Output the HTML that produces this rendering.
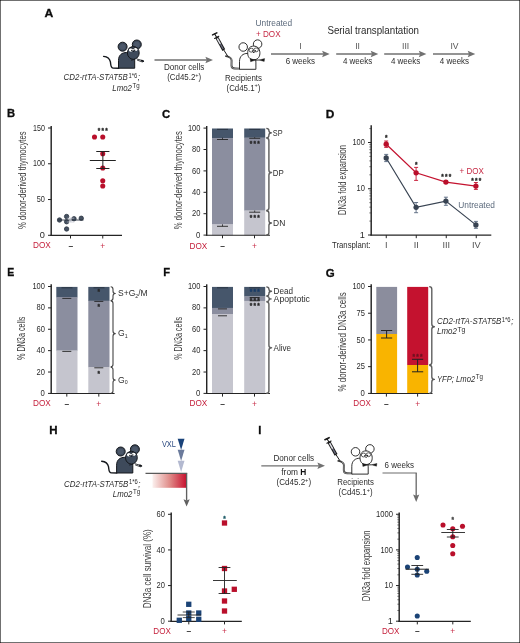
<!DOCTYPE html>
<html lang="en"><head><meta charset="utf-8"><title>Figure</title>
<style>
html,body{margin:0;padding:0;background:#fff;}
body{width:520px;height:643px;overflow:hidden;}
#fig{display:block;width:520px;height:643px;box-sizing:border-box;position:relative;}
svg{display:block;font-family:"Liberation Sans",sans-serif;}
</style></head><body>
<div id="fig">
<svg width="520" height="643" viewBox="0 0 520 643">
<rect x="0" y="0" width="520" height="643" fill="#fff"/>
<text x="44.6" y="16.7" font-size="11.4" fill="#0d0d0d" font-weight="bold" textLength="8.8" lengthAdjust="spacingAndGlyphs" stroke="#0d0d0d" stroke-width="0.3">A</text>
<g transform="translate(0.1,-0.1)">
<path d="M103.5,56.5 C106.5,56.8 109.6,58.5 110.3,62 C110.8,64.5 110.3,68.2 113.2,68.2 L118.6,68.3" fill="none" stroke="#14171c" stroke-width="1.4" stroke-linecap="round"/>
<circle cx="122.5" cy="46.8" r="4.5" fill="#3e4a5b" stroke="#14171c" stroke-width="1"/>
<circle cx="136.7" cy="44.6" r="4.5" fill="#3e4a5b" stroke="#14171c" stroke-width="1"/>
<circle cx="122.5" cy="46.8" r="2.8" fill="#4c586a"/><circle cx="136.7" cy="44.6" r="2.8" fill="#4c586a"/>
<path d="M118.4,68.3 L118.4,60.5 C118.4,55 122,52.6 126.5,52.6 C131.5,52.6 134.6,56 134.6,61 L134.6,68.3 Z" fill="#3e4a5b" stroke="#14171c" stroke-width="1" stroke-linejoin="round"/>
<ellipse cx="133.2" cy="53" rx="5.9" ry="6.4" fill="#3e4a5b" stroke="#14171c" stroke-width="1"/>
<ellipse cx="130.8" cy="50.1" rx="2.1" ry="1.7" fill="#fff"/>
<ellipse cx="135.3" cy="49.5" rx="2.1" ry="1.7" fill="#fff"/>
<circle cx="131.7" cy="50.7" r="0.75" fill="#14171c"/><circle cx="134.6" cy="50.3" r="0.75" fill="#14171c"/>
<path d="M128.6,48.4 Q130.8,47 133,48.6 Q135.3,46.8 137.6,48.2" fill="none" stroke="#14171c" stroke-width="0.8"/>
<ellipse cx="133.3" cy="51.4" rx="0.9" ry="0.6" fill="#14171c"/>
<path d="M136.6,59 L143.4,61 M137,60.2 L142.6,62.2 M131,60.4 L134.4,59.6" fill="none" stroke="#14171c" stroke-width="0.8"/>
<ellipse cx="142.4" cy="61" rx="1.7" ry="1" fill="#14171c" transform="rotate(18 142.4 61)"/>
</g>
<text x="63.6" y="80.3" font-size="8.8" fill="#2d2d2d" font-style="italic" textLength="64.2" lengthAdjust="spacingAndGlyphs" >CD2-rtTA-STAT5B</text>
<text x="128.4" y="77.6" font-size="6.4" fill="#2d2d2d" textLength="8.8" lengthAdjust="spacingAndGlyphs" >1*6</text>
<text x="137.8" y="80.3" font-size="8.8" fill="#2d2d2d" font-style="italic" textLength="2.2" lengthAdjust="spacingAndGlyphs" >;</text>
<text x="112.3" y="90.5" font-size="8.8" fill="#2d2d2d" font-style="italic" textLength="19.6" lengthAdjust="spacingAndGlyphs" >Lmo2</text>
<text x="132.4" y="87.8" font-size="6.4" fill="#2d2d2d" textLength="7.2" lengthAdjust="spacingAndGlyphs" >Tg</text>
<line x1="154.5" y1="60" x2="206.9" y2="60" stroke="#717171" stroke-width="1.35" />
<path d="M213,60 L205.4,56.7 L206.7,60 L205.4,63.3 Z" fill="#717171"/>
<text x="184.2" y="69.5" font-size="8.8" fill="#2d2d2d" text-anchor="middle" textLength="40.3" lengthAdjust="spacingAndGlyphs" >Donor cells</text>
<text x="184.2" y="80" font-size="8.8" fill="#2d2d2d" text-anchor="middle" textLength="34" lengthAdjust="spacingAndGlyphs" >(Cd45.2<tspan font-size="6.2" dy="-3.3">+</tspan><tspan dy="3.3">)</tspan></text>
<g transform="translate(0,0.1)">
<g stroke="#1a1a1a" fill="none" stroke-linecap="round">
<path d="M212.6,34.8 L216.8,32.8" stroke-width="1.6"/>
<path d="M214.7,33.8 L216.6,37.2" stroke-width="1.1"/>
<path d="M214.6,38.3 L218.8,36.2" stroke-width="1.1"/>
<path d="M216.7,37.2 L223.8,50" stroke-width="3.2" stroke-linecap="butt"/>
<path d="M217.3,38.3 L220.4,43.9" stroke="#e4e5ec" stroke-width="1.5" stroke-linecap="butt"/>
<path d="M220.4,43.9 L223.2,48.9" stroke="#6d7083" stroke-width="1.3" stroke-linecap="butt"/>
<path d="M223.6,49.6 L228.2,56.8" stroke-width="1"/>
<path d="M226,56 C229.5,56.6 231.6,57.6 231.6,60.4 L231.5,65.4 C231.5,67.9 232.6,68.4 235,68.4 L239.5,68.5" stroke-width="1.9" stroke="#3a3a3a"/>
<path d="M229.8,57.2 C231.4,58 231.6,58.6 231.6,60.4 L231.5,65.4 C231.5,67.9 232.6,68.4 235,68.4 L239,68.5" stroke-width="0.5" stroke="#d8d8d8"/>
</g>
<circle cx="243.2" cy="46.9" r="4.25" fill="#fff" stroke="#1a1a1a" stroke-width="0.9"/>
<circle cx="257.6" cy="44" r="4.25" fill="#fff" stroke="#1a1a1a" stroke-width="0.9"/>
<path d="M239.5,69.2 L239.5,61.4 C239.5,56 243,53.3 247.5,53.3 C252.5,53.3 255.9,57 255.9,62 L255.9,69.2 Z" fill="#fff" stroke="#1a1a1a" stroke-width="0.9" stroke-linejoin="round"/>
<path d="M253.6,46 C257.4,46 259.6,48.6 259.9,52.4 C260.1,56 258.4,59.6 253.8,59.6 C249.4,59.6 247.6,56.4 247.7,52.6 C247.8,48.8 249.8,46 253.6,46 Z" fill="#fff" stroke="#1a1a1a" stroke-width="0.9"/>
<ellipse cx="251.3" cy="50.1" rx="2.25" ry="1.95" fill="#fff" stroke="#1a1a1a" stroke-width="0.7"/>
<ellipse cx="256.1" cy="49.8" rx="2.25" ry="1.95" fill="#fff" stroke="#1a1a1a" stroke-width="0.7"/>
<circle cx="252.5" cy="50.8" r="0.65" fill="#1a1a1a"/><circle cx="255.3" cy="50.6" r="0.65" fill="#1a1a1a"/>
<ellipse cx="253.8" cy="52.3" rx="0.8" ry="0.55" fill="#1a1a1a"/>
<path d="M250.2,58.6 L255.6,60 L250.6,61.6 Z M264.6,58.5 L259,59.9 L264.2,61.3 Z" fill="#1a1a1a" stroke="#1a1a1a" stroke-width="0.4" stroke-linejoin="round"/>
<path d="M255.4,60 L259.2,59.9" stroke="#1a1a1a" stroke-width="0.9"/>
</g>
<text x="243.5" y="80.8" font-size="8.8" fill="#2d2d2d" text-anchor="middle" textLength="37" lengthAdjust="spacingAndGlyphs" >Recipients</text>
<text x="243.5" y="90.6" font-size="8.8" fill="#2d2d2d" text-anchor="middle" textLength="34" lengthAdjust="spacingAndGlyphs" >(Cd45.1<tspan font-size="6.2" dy="-3.3">+</tspan><tspan dy="3.3">)</tspan></text>
<text x="255.5" y="26.4" font-size="9.4" fill="#5c6a7c" textLength="36.6" lengthAdjust="spacingAndGlyphs" >Untreated</text>
<text x="256" y="36.6" font-size="9.2" fill="#c62a45" textLength="24.6" lengthAdjust="spacingAndGlyphs" >+ DOX</text>
<text x="327.4" y="33.9" font-size="10.2" fill="#2a2a2a" textLength="91.6" lengthAdjust="spacingAndGlyphs" >Serial transplantation</text>
<line x1="271" y1="54" x2="323.6" y2="54" stroke="#717171" stroke-width="1.35" />
<path d="M329.7,54 L322.1,50.7 L323.4,54 L322.1,57.3 Z" fill="#717171"/>
<text x="300.35" y="49.3" font-size="8.6" fill="#555" text-anchor="middle" >I</text>
<text x="300.35" y="64.1" font-size="8.8" fill="#2d2d2d" text-anchor="middle" textLength="29.3" lengthAdjust="spacingAndGlyphs" >6 weeks</text>
<line x1="336.2" y1="54" x2="372.2" y2="54" stroke="#717171" stroke-width="1.35" />
<path d="M378.3,54 L370.7,50.7 L372.0,54 L370.7,57.3 Z" fill="#717171"/>
<text x="357.55" y="49.3" font-size="8.6" fill="#555" text-anchor="middle" >II</text>
<text x="357.55" y="64.1" font-size="8.8" fill="#2d2d2d" text-anchor="middle" textLength="29.3" lengthAdjust="spacingAndGlyphs" >4 weeks</text>
<line x1="384.2" y1="54" x2="420.3" y2="54" stroke="#717171" stroke-width="1.35" />
<path d="M426.4,54 L418.8,50.7 L420.1,54 L418.8,57.3 Z" fill="#717171"/>
<text x="405.6" y="49.3" font-size="8.6" fill="#555" text-anchor="middle" >III</text>
<text x="405.6" y="64.1" font-size="8.8" fill="#2d2d2d" text-anchor="middle" textLength="29.3" lengthAdjust="spacingAndGlyphs" >4 weeks</text>
<line x1="433" y1="54" x2="469.2" y2="54" stroke="#717171" stroke-width="1.35" />
<path d="M475.3,54 L467.7,50.7 L469.0,54 L467.7,57.3 Z" fill="#717171"/>
<text x="454.45" y="49.3" font-size="8.6" fill="#555" text-anchor="middle" >IV</text>
<text x="454.45" y="64.1" font-size="8.8" fill="#2d2d2d" text-anchor="middle" textLength="29.3" lengthAdjust="spacingAndGlyphs" >4 weeks</text>
<text x="6.9" y="117" font-size="11.2" fill="#0d0d0d" font-weight="bold" stroke="#0d0d0d" stroke-width="0.3">B</text>
<line x1="51.2" y1="126" x2="51.2" y2="235.9" stroke="#242424" stroke-width="1.45" />
<line x1="50.4" y1="235.4" x2="122" y2="235.4" stroke="#242424" stroke-width="1.15" />
<line x1="48.0" y1="235.3" x2="51.3" y2="235.3" stroke="#242424" stroke-width="1" />
<text x="44.9" y="237.9" font-size="9.2" fill="#2a2a2a" text-anchor="end" >0</text>
<line x1="48.0" y1="199.54" x2="51.3" y2="199.54" stroke="#242424" stroke-width="1" />
<text x="44.9" y="202.14" font-size="9.2" fill="#2a2a2a" text-anchor="end" textLength="8.2" lengthAdjust="spacingAndGlyphs" >50</text>
<line x1="48.0" y1="163.77" x2="51.3" y2="163.77" stroke="#242424" stroke-width="1" />
<text x="44.9" y="166.37" font-size="9.2" fill="#2a2a2a" text-anchor="end" textLength="11.9" lengthAdjust="spacingAndGlyphs" >100</text>
<line x1="48.0" y1="128" x2="51.3" y2="128" stroke="#242424" stroke-width="1" />
<text x="44.9" y="130.6" font-size="9.2" fill="#2a2a2a" text-anchor="end" textLength="11.9" lengthAdjust="spacingAndGlyphs" >150</text>
<line x1="70.5" y1="235.3" x2="70.5" y2="238.5" stroke="#242424" stroke-width="1" />
<line x1="102.75" y1="235.3" x2="102.75" y2="238.5" stroke="#242424" stroke-width="1" />
<text transform="translate(25.9,180.2) rotate(-90)" font-size="10.4" fill="#3c3c3c" text-anchor="middle" textLength="97.4" lengthAdjust="spacingAndGlyphs">% donor-derived thymocytes</text>
<circle cx="59.5" cy="220" r="2.2" fill="#465262" stroke="#2c3643" stroke-width="0.8"/>
<circle cx="66.6" cy="216.5" r="2.2" fill="#465262" stroke="#2c3643" stroke-width="0.8"/>
<circle cx="66.6" cy="221.75" r="2.2" fill="#465262" stroke="#2c3643" stroke-width="0.8"/>
<circle cx="66.6" cy="229" r="2.2" fill="#465262" stroke="#2c3643" stroke-width="0.8"/>
<circle cx="74" cy="218.75" r="2.2" fill="#465262" stroke="#2c3643" stroke-width="0.8"/>
<circle cx="81.25" cy="218.25" r="2.2" fill="#465262" stroke="#2c3643" stroke-width="0.8"/>
<line x1="58" y1="220" x2="83.5" y2="220" stroke="#2a3442" stroke-width="0.9" />
<line x1="70.75" y1="218.2" x2="70.75" y2="222" stroke="#b9bcc8" stroke-width="0.7" />
<line x1="67.25" y1="218.2" x2="74.25" y2="218.2" stroke="#b9bcc8" stroke-width="0.7" />
<line x1="67.25" y1="222" x2="74.25" y2="222" stroke="#b9bcc8" stroke-width="0.7" />
<circle cx="94.5" cy="137" r="2.55" fill="#b90f2b" />
<circle cx="102.75" cy="137" r="2.55" fill="#b90f2b" />
<circle cx="102.75" cy="153.75" r="2.55" fill="#b90f2b" />
<circle cx="102.75" cy="168" r="2.55" fill="#b90f2b" />
<circle cx="102.75" cy="180.75" r="2.55" fill="#b90f2b" />
<circle cx="102.75" cy="186" r="2.55" fill="#b90f2b" />
<line x1="89.8" y1="160.5" x2="115.8" y2="160.5" stroke="#222" stroke-width="1" />
<line x1="102.85" y1="151.5" x2="102.85" y2="168.5" stroke="#222" stroke-width="1" />
<line x1="96.25" y1="151.5" x2="109.45" y2="151.5" stroke="#222" stroke-width="1" />
<line x1="96.25" y1="168.5" x2="109.45" y2="168.5" stroke="#222" stroke-width="1" />
<text x="97.86" y="133.38" font-size="6.4" fill="#262626" font-weight="bold" letter-spacing="1.26" stroke="#262626" stroke-width="0.3" stroke-linejoin="round">***</text>
<text x="33" y="248.2" font-size="9" fill="#c41e3a" textLength="17.8" lengthAdjust="spacingAndGlyphs" >DOX</text>
<text x="70.75" y="248.5" font-size="8.4" fill="#3a3a3a" text-anchor="middle" font-weight="bold" >–</text>
<text x="102.75" y="248.8" font-size="8.4" fill="#c8304a" text-anchor="middle" >+</text>
<text x="162" y="117.8" font-size="11.2" fill="#0d0d0d" font-weight="bold" textLength="8.2" lengthAdjust="spacingAndGlyphs" stroke="#0d0d0d" stroke-width="0.3">C</text>
<rect x="212" y="128.5" width="21" height="9.9" fill="#46566b" />
<rect x="212" y="138.1" width="21" height="86.5" fill="#8b8e9f" />
<rect x="212" y="224.3" width="21" height="11.1" fill="#c5c5ce" />
<rect x="244.2" y="128.5" width="21" height="9.4" fill="#46566b" />
<rect x="244.2" y="137.6" width="21" height="73.2" fill="#8b8e9f" />
<rect x="244.2" y="210.5" width="21" height="24.9" fill="#c5c5ce" />
<line x1="206.7" y1="126" x2="206.7" y2="235.7" stroke="#242424" stroke-width="1.45" />
<line x1="205.9" y1="235.2" x2="270" y2="235.2" stroke="#242424" stroke-width="1.15" />
<line x1="203.5" y1="235.1" x2="206.8" y2="235.1" stroke="#242424" stroke-width="1" />
<text x="200.4" y="237.7" font-size="9.2" fill="#2a2a2a" text-anchor="end" textLength="4.3" lengthAdjust="spacingAndGlyphs" >0</text>
<line x1="203.5" y1="213.7" x2="206.8" y2="213.7" stroke="#242424" stroke-width="1" />
<text x="200.4" y="216.3" font-size="9.2" fill="#2a2a2a" text-anchor="end" textLength="8.4" lengthAdjust="spacingAndGlyphs" >20</text>
<line x1="203.5" y1="192.3" x2="206.8" y2="192.3" stroke="#242424" stroke-width="1" />
<text x="200.4" y="194.9" font-size="9.2" fill="#2a2a2a" text-anchor="end" textLength="8.4" lengthAdjust="spacingAndGlyphs" >40</text>
<line x1="203.5" y1="170.9" x2="206.8" y2="170.9" stroke="#242424" stroke-width="1" />
<text x="200.4" y="173.5" font-size="9.2" fill="#2a2a2a" text-anchor="end" textLength="8.4" lengthAdjust="spacingAndGlyphs" >60</text>
<line x1="203.5" y1="149.5" x2="206.8" y2="149.5" stroke="#242424" stroke-width="1" />
<text x="200.4" y="152.1" font-size="9.2" fill="#2a2a2a" text-anchor="end" textLength="8.4" lengthAdjust="spacingAndGlyphs" >80</text>
<line x1="203.5" y1="128.1" x2="206.8" y2="128.1" stroke="#242424" stroke-width="1" />
<text x="200.4" y="130.7" font-size="9.2" fill="#2a2a2a" text-anchor="end" textLength="12.5" lengthAdjust="spacingAndGlyphs" >100</text>
<line x1="222.5" y1="235.1" x2="222.5" y2="238.3" stroke="#242424" stroke-width="1" />
<line x1="254.5" y1="235.1" x2="254.5" y2="238.3" stroke="#242424" stroke-width="1" />
<text transform="translate(181.7,180.2) rotate(-90)" font-size="10.4" fill="#3c3c3c" text-anchor="middle" textLength="98" lengthAdjust="spacingAndGlyphs">% donor-derived thymocytes</text>
<line x1="222.5" y1="137.7" x2="222.5" y2="139.5" stroke="#222" stroke-width="0.8" />
<line x1="217.0" y1="139.5" x2="228.0" y2="139.5" stroke="#222" stroke-width="0.9" />
<line x1="222.5" y1="224.3" x2="222.5" y2="226.3" stroke="#222" stroke-width="0.8" />
<line x1="217.0" y1="226.3" x2="228.0" y2="226.3" stroke="#222" stroke-width="0.9" />
<line x1="254.7" y1="137.2" x2="254.7" y2="138.3" stroke="#222" stroke-width="0.8" />
<line x1="249.2" y1="138.3" x2="260.2" y2="138.3" stroke="#222" stroke-width="0.9" />
<line x1="254.7" y1="210.5" x2="254.7" y2="212.2" stroke="#222" stroke-width="0.8" />
<line x1="249.2" y1="212.2" x2="260.2" y2="212.2" stroke="#222" stroke-width="0.9" />
<line x1="217" y1="129.4" x2="228" y2="129.4" stroke="#26303d" stroke-width="0.9" />
<line x1="249.2" y1="129.4" x2="260.2" y2="129.4" stroke="#26303d" stroke-width="0.9" />
<text x="249.71" y="146.08" font-size="6.4" fill="#262626" font-weight="bold" letter-spacing="1.26" stroke="#262626" stroke-width="0.3" stroke-linejoin="round">***</text>
<text x="249.71" y="219.88" font-size="6.4" fill="#262626" font-weight="bold" letter-spacing="1.26" stroke="#262626" stroke-width="0.3" stroke-linejoin="round">***</text>
<path d="M266.3,128.4 Q268.9,128.4 268.9,130.6 L268.9,130.6 Q268.9,132.8 271.5,132.8 Q268.9,132.8 268.9,135.0 L268.9,135.6 Q268.9,137.8 266.3,137.8" fill="none" stroke="#5a5a5a" stroke-width="1.35" stroke-linejoin="round"/>
<path d="M266.3,138.1 Q268.9,138.1 268.9,140.7 L268.9,170.0 Q268.9,172.6 271.5,172.6 Q268.9,172.6 268.9,175.2 L268.9,207.8 Q268.9,210.4 266.3,210.4" fill="none" stroke="#666" stroke-width="1.5" stroke-linejoin="round"/>
<path d="M266.3,210.7 Q268.9,210.7 268.9,213.3 L268.9,220.4 Q268.9,223 271.5,223 Q268.9,223 268.9,225.6 L268.9,232.4 Q268.9,235 266.3,235" fill="none" stroke="#5a5a5a" stroke-width="1.35" stroke-linejoin="round"/>
<text x="272.8" y="135.5" font-size="9.2" fill="#2e2e2e" textLength="9.8" lengthAdjust="spacingAndGlyphs" >SP</text>
<text x="272.8" y="175.8" font-size="9.2" fill="#2e2e2e" textLength="11" lengthAdjust="spacingAndGlyphs" >DP</text>
<text x="273.1" y="226" font-size="9.2" fill="#2e2e2e" textLength="12.2" lengthAdjust="spacingAndGlyphs" >DN</text>
<text x="189.5" y="248.6" font-size="9" fill="#c41e3a" textLength="17.8" lengthAdjust="spacingAndGlyphs" >DOX</text>
<text x="222.5" y="248.9" font-size="8.4" fill="#3a3a3a" text-anchor="middle" font-weight="bold" >–</text>
<text x="254.5" y="249.2" font-size="8.4" fill="#c8304a" text-anchor="middle" >+</text>
<text x="325.7" y="117.5" font-size="11.2" fill="#0d0d0d" font-weight="bold" textLength="8.6" lengthAdjust="spacingAndGlyphs" stroke="#0d0d0d" stroke-width="0.3">D</text>
<line x1="371.2" y1="125.3" x2="371.2" y2="235.6" stroke="#242424" stroke-width="1.45" />
<line x1="370.4" y1="235.1" x2="491.3" y2="235.1" stroke="#242424" stroke-width="1.15" />
<line x1="368.0" y1="235.0" x2="371.3" y2="235.0" stroke="#242424" stroke-width="1" />
<text x="364.9" y="237.6" font-size="9.2" fill="#2a2a2a" text-anchor="end" >1</text>
<line x1="368.0" y1="188.75" x2="371.3" y2="188.75" stroke="#242424" stroke-width="1" />
<text x="364.9" y="191.35" font-size="9.2" fill="#2a2a2a" text-anchor="end" textLength="8.4" lengthAdjust="spacingAndGlyphs" >10</text>
<line x1="368.0" y1="142.5" x2="371.3" y2="142.5" stroke="#242424" stroke-width="1" />
<text x="364.9" y="145.1" font-size="9.2" fill="#2a2a2a" text-anchor="end" textLength="12.5" lengthAdjust="spacingAndGlyphs" >100</text>
<line x1="386.25" y1="235.0" x2="386.25" y2="238.2" stroke="#242424" stroke-width="1" />
<line x1="416.25" y1="235.0" x2="416.25" y2="238.2" stroke="#242424" stroke-width="1" />
<line x1="446.25" y1="235.0" x2="446.25" y2="238.2" stroke="#242424" stroke-width="1" />
<line x1="476.25" y1="235.0" x2="476.25" y2="238.2" stroke="#242424" stroke-width="1" />
<line x1="369.3" y1="221.08" x2="371.3" y2="221.08" stroke="#242424" stroke-width="0.6" />
<line x1="369.3" y1="212.93" x2="371.3" y2="212.93" stroke="#242424" stroke-width="0.6" />
<line x1="369.3" y1="207.15" x2="371.3" y2="207.15" stroke="#242424" stroke-width="0.6" />
<line x1="369.3" y1="202.67" x2="371.3" y2="202.67" stroke="#242424" stroke-width="0.6" />
<line x1="369.3" y1="199.01" x2="371.3" y2="199.01" stroke="#242424" stroke-width="0.6" />
<line x1="369.3" y1="195.91" x2="371.3" y2="195.91" stroke="#242424" stroke-width="0.6" />
<line x1="369.3" y1="193.23" x2="371.3" y2="193.23" stroke="#242424" stroke-width="0.6" />
<line x1="369.3" y1="190.87" x2="371.3" y2="190.87" stroke="#242424" stroke-width="0.6" />
<line x1="369.3" y1="174.83" x2="371.3" y2="174.83" stroke="#242424" stroke-width="0.6" />
<line x1="369.3" y1="166.68" x2="371.3" y2="166.68" stroke="#242424" stroke-width="0.6" />
<line x1="369.3" y1="160.9" x2="371.3" y2="160.9" stroke="#242424" stroke-width="0.6" />
<line x1="369.3" y1="156.42" x2="371.3" y2="156.42" stroke="#242424" stroke-width="0.6" />
<line x1="369.3" y1="152.76" x2="371.3" y2="152.76" stroke="#242424" stroke-width="0.6" />
<line x1="369.3" y1="149.66" x2="371.3" y2="149.66" stroke="#242424" stroke-width="0.6" />
<line x1="369.3" y1="146.98" x2="371.3" y2="146.98" stroke="#242424" stroke-width="0.6" />
<line x1="369.3" y1="144.62" x2="371.3" y2="144.62" stroke="#242424" stroke-width="0.6" />
<line x1="369.3" y1="128.58" x2="371.3" y2="128.58" stroke="#242424" stroke-width="0.6" />
<text transform="translate(346.4,180) rotate(-90)" font-size="10.4" fill="#3c3c3c" text-anchor="middle" textLength="70" lengthAdjust="spacingAndGlyphs">DN3a fold expansion</text>
<text x="332" y="248.2" font-size="8.8" fill="#2d2d2d" textLength="38.5" lengthAdjust="spacingAndGlyphs" >Transplant:</text>
<text x="386.25" y="248.4" font-size="9.2" fill="#505050" text-anchor="middle" >I</text>
<text x="416.25" y="248.4" font-size="9.2" fill="#505050" text-anchor="middle" >II</text>
<text x="446.25" y="248.4" font-size="9.2" fill="#505050" text-anchor="middle" >III</text>
<text x="476.25" y="248.4" font-size="9.2" fill="#505050" text-anchor="middle" >IV</text>
<polyline points="386.2,158 416.1,207.3 445.9,201.1 475.9,224.9" fill="none" stroke="#384352" stroke-width="1.15"/>
<polyline points="386.2,144.2 416.1,172.8 445.9,182.1 475.9,186.1" fill="none" stroke="#c4122f" stroke-width="1.2"/>
<line x1="386.2" y1="154.4" x2="386.2" y2="161.6" stroke="#56667e" stroke-width="0.9" />
<line x1="384.2" y1="154.4" x2="388.2" y2="154.4" stroke="#56667e" stroke-width="0.9" />
<line x1="384.2" y1="161.6" x2="388.2" y2="161.6" stroke="#56667e" stroke-width="0.9" />
<circle cx="386.2" cy="158" r="2.65" fill="#384352" />
<line x1="416.1" y1="202.5" x2="416.1" y2="212.7" stroke="#56667e" stroke-width="0.9" />
<line x1="414.1" y1="202.5" x2="418.1" y2="202.5" stroke="#56667e" stroke-width="0.9" />
<line x1="414.1" y1="212.7" x2="418.1" y2="212.7" stroke="#56667e" stroke-width="0.9" />
<circle cx="416.1" cy="207.3" r="2.65" fill="#384352" />
<line x1="445.9" y1="197.2" x2="445.9" y2="205.3" stroke="#56667e" stroke-width="0.9" />
<line x1="443.9" y1="197.2" x2="447.9" y2="197.2" stroke="#56667e" stroke-width="0.9" />
<line x1="443.9" y1="205.3" x2="447.9" y2="205.3" stroke="#56667e" stroke-width="0.9" />
<circle cx="445.9" cy="201.1" r="2.65" fill="#384352" />
<line x1="475.9" y1="221.4" x2="475.9" y2="228.3" stroke="#56667e" stroke-width="0.9" />
<line x1="473.9" y1="221.4" x2="477.9" y2="221.4" stroke="#56667e" stroke-width="0.9" />
<line x1="473.9" y1="228.3" x2="477.9" y2="228.3" stroke="#56667e" stroke-width="0.9" />
<circle cx="475.9" cy="224.9" r="2.65" fill="#384352" />
<line x1="386.2" y1="141.0" x2="386.2" y2="147.4" stroke="#c4122f" stroke-width="0.9" />
<line x1="384.2" y1="141.0" x2="388.2" y2="141.0" stroke="#c4122f" stroke-width="0.9" />
<line x1="384.2" y1="147.4" x2="388.2" y2="147.4" stroke="#c4122f" stroke-width="0.9" />
<circle cx="386.2" cy="144.2" r="2.65" fill="#b90f2b" />
<line x1="416.1" y1="167.4" x2="416.1" y2="180.4" stroke="#c4122f" stroke-width="0.9" />
<line x1="414.1" y1="167.4" x2="418.1" y2="167.4" stroke="#c4122f" stroke-width="0.9" />
<line x1="414.1" y1="180.4" x2="418.1" y2="180.4" stroke="#c4122f" stroke-width="0.9" />
<circle cx="416.1" cy="172.8" r="2.65" fill="#b90f2b" />
<line x1="445.9" y1="180.8" x2="445.9" y2="183.4" stroke="#c4122f" stroke-width="0.9" />
<line x1="443.9" y1="180.8" x2="447.9" y2="180.8" stroke="#c4122f" stroke-width="0.9" />
<line x1="443.9" y1="183.4" x2="447.9" y2="183.4" stroke="#c4122f" stroke-width="0.9" />
<circle cx="445.9" cy="182.1" r="2.65" fill="#b90f2b" />
<line x1="475.9" y1="182.5" x2="475.9" y2="189.4" stroke="#c4122f" stroke-width="0.9" />
<line x1="473.9" y1="182.5" x2="477.9" y2="182.5" stroke="#c4122f" stroke-width="0.9" />
<line x1="473.9" y1="189.4" x2="477.9" y2="189.4" stroke="#c4122f" stroke-width="0.9" />
<circle cx="475.9" cy="186.1" r="2.65" fill="#b90f2b" />
<text x="385.01" y="139.78" font-size="6.4" fill="#262626" font-weight="bold" letter-spacing="1.26" stroke="#262626" stroke-width="0.3" stroke-linejoin="round">*</text>
<text x="415.01" y="167.28" font-size="6.4" fill="#262626" font-weight="bold" letter-spacing="1.26" stroke="#262626" stroke-width="0.3" stroke-linejoin="round">*</text>
<text x="441.26" y="179.38" font-size="6.4" fill="#262626" font-weight="bold" letter-spacing="1.26" stroke="#262626" stroke-width="0.3" stroke-linejoin="round">***</text>
<text x="471.26" y="182.88" font-size="6.4" fill="#262626" font-weight="bold" letter-spacing="1.26" stroke="#262626" stroke-width="0.3" stroke-linejoin="round">***</text>
<text x="459.5" y="174" font-size="9.2" fill="#c62a45" textLength="24.3" lengthAdjust="spacingAndGlyphs" >+ DOX</text>
<text x="458.3" y="208.3" font-size="9.2" fill="#5c6a7c" textLength="36.7" lengthAdjust="spacingAndGlyphs" >Untreated</text>
<text x="7.2" y="276.3" font-size="11.2" fill="#0d0d0d" font-weight="bold" textLength="7" lengthAdjust="spacingAndGlyphs" stroke="#0d0d0d" stroke-width="0.3">E</text>
<rect x="56.3" y="286.9" width="21.2" height="10.4" fill="#46566b" />
<rect x="56.3" y="297" width="21.2" height="53.8" fill="#8b8e9f" />
<rect x="56.3" y="350.5" width="21.2" height="43.2" fill="#c5c5ce" />
<rect x="88.3" y="286.9" width="21.2" height="14.1" fill="#46566b" />
<rect x="88.3" y="300.7" width="21.2" height="66.6" fill="#8b8e9f" />
<rect x="88.3" y="367" width="21.2" height="26.7" fill="#c5c5ce" />
<line x1="51.2" y1="284.3" x2="51.2" y2="394.0" stroke="#242424" stroke-width="1.45" />
<line x1="50.4" y1="393.5" x2="114.6" y2="393.5" stroke="#242424" stroke-width="1.15" />
<line x1="48.0" y1="393.4" x2="51.3" y2="393.4" stroke="#242424" stroke-width="1" />
<text x="44.9" y="396.0" font-size="9.2" fill="#2a2a2a" text-anchor="end" textLength="4.3" lengthAdjust="spacingAndGlyphs" >0</text>
<line x1="48.0" y1="372.02" x2="51.3" y2="372.02" stroke="#242424" stroke-width="1" />
<text x="44.9" y="374.62" font-size="9.2" fill="#2a2a2a" text-anchor="end" textLength="8.4" lengthAdjust="spacingAndGlyphs" >20</text>
<line x1="48.0" y1="350.64" x2="51.3" y2="350.64" stroke="#242424" stroke-width="1" />
<text x="44.9" y="353.24" font-size="9.2" fill="#2a2a2a" text-anchor="end" textLength="8.4" lengthAdjust="spacingAndGlyphs" >40</text>
<line x1="48.0" y1="329.26" x2="51.3" y2="329.26" stroke="#242424" stroke-width="1" />
<text x="44.9" y="331.86" font-size="9.2" fill="#2a2a2a" text-anchor="end" textLength="8.4" lengthAdjust="spacingAndGlyphs" >60</text>
<line x1="48.0" y1="307.88" x2="51.3" y2="307.88" stroke="#242424" stroke-width="1" />
<text x="44.9" y="310.48" font-size="9.2" fill="#2a2a2a" text-anchor="end" textLength="8.4" lengthAdjust="spacingAndGlyphs" >80</text>
<line x1="48.0" y1="286.5" x2="51.3" y2="286.5" stroke="#242424" stroke-width="1" />
<text x="44.9" y="289.1" font-size="9.2" fill="#2a2a2a" text-anchor="end" textLength="12.5" lengthAdjust="spacingAndGlyphs" >100</text>
<line x1="66.8" y1="393.4" x2="66.8" y2="396.6" stroke="#242424" stroke-width="1" />
<line x1="98.8" y1="393.4" x2="98.8" y2="396.6" stroke="#242424" stroke-width="1" />
<text transform="translate(25.4,338.3) rotate(-90)" font-size="10.4" fill="#3c3c3c" text-anchor="middle" textLength="43.6" lengthAdjust="spacingAndGlyphs">% DN3a cells</text>
<line x1="62.3" y1="298.4" x2="71.3" y2="298.4" stroke="#222" stroke-width="0.9" />
<line x1="62.3" y1="351.4" x2="71.3" y2="351.4" stroke="#222" stroke-width="0.9" />
<line x1="94.3" y1="301.4" x2="103.3" y2="301.4" stroke="#222" stroke-width="0.9" />
<line x1="94.3" y1="367.8" x2="103.3" y2="367.8" stroke="#222" stroke-width="0.9" />
<line x1="61.5" y1="287.8" x2="72.5" y2="287.8" stroke="#26303d" stroke-width="0.9" />
<line x1="93.5" y1="287.8" x2="104.5" y2="287.8" stroke="#26303d" stroke-width="0.9" />
<text x="97.56" y="294.08" font-size="6.4" fill="#262626" font-weight="bold" letter-spacing="1.26" stroke="#262626" stroke-width="0.3" stroke-linejoin="round">*</text>
<text x="97.56" y="309.38" font-size="6.4" fill="#262626" font-weight="bold" letter-spacing="1.26" stroke="#262626" stroke-width="0.3" stroke-linejoin="round">*</text>
<text x="97.56" y="376.08" font-size="6.4" fill="#262626" font-weight="bold" letter-spacing="1.26" stroke="#262626" stroke-width="0.3" stroke-linejoin="round">*</text>
<path d="M110.7,286.8 Q113,286.8 113,289.4 L113,290.9 Q113,293.5 115.3,293.5 Q113,293.5 113,296.1 L113,297.9 Q113,300.5 110.7,300.5" fill="none" stroke="#444" stroke-width="1.1" stroke-linejoin="round"/>
<path d="M110.7,300.9 Q113,300.9 113,303.5 L113,331.0 Q113,333.6 115.3,333.6 Q113,333.6 113,336.2 L113,364.2 Q113,366.8 110.7,366.8" fill="none" stroke="#444" stroke-width="1.1" stroke-linejoin="round"/>
<path d="M110.7,367.2 Q113,367.2 113,369.8 L113,377.4 Q113,380 115.3,380 Q113,380 113,382.6 L113,390.7 Q113,393.3 110.7,393.3" fill="none" stroke="#444" stroke-width="1.1" stroke-linejoin="round"/>
<text x="118" y="296" font-size="8.8" fill="#2d2d2d" textLength="29.6" lengthAdjust="spacingAndGlyphs" >S+G<tspan font-size="5.4" dy="1.6">2</tspan><tspan dy="-1.6">/M</tspan></text>
<text x="118" y="336.3" font-size="8.8" fill="#2d2d2d" textLength="9.6" lengthAdjust="spacingAndGlyphs" >G<tspan font-size="5.4" dy="1.6">1</tspan></text>
<text x="118" y="382.7" font-size="8.8" fill="#2d2d2d" textLength="9.6" lengthAdjust="spacingAndGlyphs" >G<tspan font-size="5.4" dy="1.6">0</tspan></text>
<text x="33" y="406.4" font-size="9" fill="#c41e3a" textLength="17.8" lengthAdjust="spacingAndGlyphs" >DOX</text>
<text x="66.8" y="406.7" font-size="8.4" fill="#3a3a3a" text-anchor="middle" font-weight="bold" >–</text>
<text x="98.8" y="407.0" font-size="8.4" fill="#c8304a" text-anchor="middle" >+</text>
<text x="163.3" y="276.4" font-size="11.2" fill="#0d0d0d" font-weight="bold" stroke="#0d0d0d" stroke-width="0.3">F</text>
<rect x="212" y="286.9" width="21" height="21.3" fill="#46566b" />
<rect x="212" y="307.9" width="21" height="6.6" fill="#8b8e9f" />
<rect x="212" y="314.2" width="21" height="79.5" fill="#c5c5ce" />
<rect x="244.2" y="286.9" width="21" height="9.7" fill="#46566b" />
<rect x="244.2" y="296.3" width="21" height="4.9" fill="#8b8e9f" />
<rect x="244.2" y="300.9" width="21" height="92.8" fill="#c5c5ce" />
<line x1="206.7" y1="284.3" x2="206.7" y2="394.0" stroke="#242424" stroke-width="1.45" />
<line x1="205.9" y1="393.5" x2="270" y2="393.5" stroke="#242424" stroke-width="1.15" />
<line x1="203.5" y1="393.4" x2="206.8" y2="393.4" stroke="#242424" stroke-width="1" />
<text x="200.4" y="396.0" font-size="9.2" fill="#2a2a2a" text-anchor="end" textLength="4.3" lengthAdjust="spacingAndGlyphs" >0</text>
<line x1="203.5" y1="372.02" x2="206.8" y2="372.02" stroke="#242424" stroke-width="1" />
<text x="200.4" y="374.62" font-size="9.2" fill="#2a2a2a" text-anchor="end" textLength="8.4" lengthAdjust="spacingAndGlyphs" >20</text>
<line x1="203.5" y1="350.64" x2="206.8" y2="350.64" stroke="#242424" stroke-width="1" />
<text x="200.4" y="353.24" font-size="9.2" fill="#2a2a2a" text-anchor="end" textLength="8.4" lengthAdjust="spacingAndGlyphs" >40</text>
<line x1="203.5" y1="329.26" x2="206.8" y2="329.26" stroke="#242424" stroke-width="1" />
<text x="200.4" y="331.86" font-size="9.2" fill="#2a2a2a" text-anchor="end" textLength="8.4" lengthAdjust="spacingAndGlyphs" >60</text>
<line x1="203.5" y1="307.88" x2="206.8" y2="307.88" stroke="#242424" stroke-width="1" />
<text x="200.4" y="310.48" font-size="9.2" fill="#2a2a2a" text-anchor="end" textLength="8.4" lengthAdjust="spacingAndGlyphs" >80</text>
<line x1="203.5" y1="286.5" x2="206.8" y2="286.5" stroke="#242424" stroke-width="1" />
<text x="200.4" y="289.1" font-size="9.2" fill="#2a2a2a" text-anchor="end" textLength="12.5" lengthAdjust="spacingAndGlyphs" >100</text>
<line x1="222.5" y1="393.4" x2="222.5" y2="396.6" stroke="#242424" stroke-width="1" />
<line x1="254.5" y1="393.4" x2="254.5" y2="396.6" stroke="#242424" stroke-width="1" />
<text transform="translate(181.8,338.3) rotate(-90)" font-size="10.4" fill="#3c3c3c" text-anchor="middle" textLength="43" lengthAdjust="spacingAndGlyphs">% DN3a cells</text>
<line x1="218.0" y1="308.9" x2="227.0" y2="308.9" stroke="#222" stroke-width="0.9" />
<line x1="218.0" y1="315.8" x2="227.0" y2="315.8" stroke="#222" stroke-width="0.9" />
<line x1="217" y1="287.8" x2="228" y2="287.8" stroke="#26303d" stroke-width="0.9" />
<line x1="249.2" y1="287.8" x2="260.2" y2="287.8" stroke="#26303d" stroke-width="0.9" />
<line x1="249.7" y1="297.5" x2="259.7" y2="297.5" stroke="#222" stroke-width="0.9" />
<line x1="249.7" y1="300.8" x2="259.7" y2="300.8" stroke="#222" stroke-width="0.9" />
<text x="249.71" y="293.68" font-size="6.4" fill="#173a66" font-weight="bold" letter-spacing="1.26" stroke="#173a66" stroke-width="0.3" stroke-linejoin="round">***</text>
<text x="249.67" y="302.90" font-size="6.6" fill="#262626" font-weight="bold" letter-spacing="1.18" stroke="#262626" stroke-width="0.3" stroke-linejoin="round">***</text>
<text x="249.71" y="308.48" font-size="6.4" fill="#262626" font-weight="bold" letter-spacing="1.26" stroke="#262626" stroke-width="0.3" stroke-linejoin="round">***</text>
<path d="M266.3,286.8 Q268.9,286.8 268.9,289.0 L268.9,289.0 Q268.9,291.2 271.5,291.2 Q268.9,291.2 268.9,293.4 L268.9,293.8 Q268.9,296 266.3,296" fill="none" stroke="#5a5a5a" stroke-width="1.35" stroke-linejoin="round"/>
<path d="M266.7,296.3 Q268.9,296.3 268.9,297.55 L268.9,297.65 Q268.9,298.9 271.1,298.9 Q268.9,298.9 268.9,300.15 L268.9,300.15 Q268.9,301.4 266.7,301.4" fill="none" stroke="#5a5a5a" stroke-width="1.35" stroke-linejoin="round"/>
<path d="M266.3,301.7 Q268.9,301.7 268.9,304.3 L268.9,345.2 Q268.9,347.8 271.5,347.8 Q268.9,347.8 268.9,350.4 L268.9,390.7 Q268.9,393.3 266.3,393.3" fill="none" stroke="#666" stroke-width="1.5" stroke-linejoin="round"/>
<text x="273.6" y="293.7" font-size="8.8" fill="#2d2d2d" textLength="19.4" lengthAdjust="spacingAndGlyphs" >Dead</text>
<text x="273.6" y="302.1" font-size="8.8" fill="#2d2d2d" textLength="36.4" lengthAdjust="spacingAndGlyphs" >Apoptotic</text>
<text x="273.6" y="351.3" font-size="8.8" fill="#2d2d2d" textLength="17.4" lengthAdjust="spacingAndGlyphs" >Alive</text>
<text x="189.5" y="406.4" font-size="9" fill="#c41e3a" textLength="17.8" lengthAdjust="spacingAndGlyphs" >DOX</text>
<text x="222.5" y="406.7" font-size="8.4" fill="#3a3a3a" text-anchor="middle" font-weight="bold" >–</text>
<text x="254.5" y="407.0" font-size="8.4" fill="#c8304a" text-anchor="middle" >+</text>
<text x="325.8" y="276.6" font-size="11.2" fill="#0d0d0d" font-weight="bold" textLength="8.9" lengthAdjust="spacingAndGlyphs" stroke="#0d0d0d" stroke-width="0.3">G</text>
<rect x="376.3" y="286.9" width="20.8" height="47.1" fill="#8b8d9d" />
<rect x="376.3" y="334" width="20.8" height="59.4" fill="#f9b400" />
<rect x="407.2" y="286.9" width="21" height="78.1" fill="#c4122f" />
<rect x="407.2" y="365" width="21" height="28.4" fill="#f9b400" />
<line x1="371.2" y1="284.3" x2="371.2" y2="394.0" stroke="#242424" stroke-width="1.45" />
<line x1="370.4" y1="393.5" x2="432.5" y2="393.5" stroke="#242424" stroke-width="1.15" />
<line x1="368.0" y1="393.4" x2="371.3" y2="393.4" stroke="#242424" stroke-width="1" />
<text x="364.9" y="396.0" font-size="9.2" fill="#2a2a2a" text-anchor="end" textLength="4.3" lengthAdjust="spacingAndGlyphs" >0</text>
<line x1="368.0" y1="366.67" x2="371.3" y2="366.67" stroke="#242424" stroke-width="1" />
<text x="364.9" y="369.27" font-size="9.2" fill="#2a2a2a" text-anchor="end" textLength="8.4" lengthAdjust="spacingAndGlyphs" >25</text>
<line x1="368.0" y1="339.95" x2="371.3" y2="339.95" stroke="#242424" stroke-width="1" />
<text x="364.9" y="342.55" font-size="9.2" fill="#2a2a2a" text-anchor="end" textLength="8.4" lengthAdjust="spacingAndGlyphs" >50</text>
<line x1="368.0" y1="313.23" x2="371.3" y2="313.23" stroke="#242424" stroke-width="1" />
<text x="364.9" y="315.83" font-size="9.2" fill="#2a2a2a" text-anchor="end" textLength="8.4" lengthAdjust="spacingAndGlyphs" >75</text>
<line x1="368.0" y1="286.5" x2="371.3" y2="286.5" stroke="#242424" stroke-width="1" />
<text x="364.9" y="289.1" font-size="9.2" fill="#2a2a2a" text-anchor="end" textLength="12.5" lengthAdjust="spacingAndGlyphs" >100</text>
<line x1="386.4" y1="393.4" x2="386.4" y2="396.6" stroke="#242424" stroke-width="1" />
<line x1="417.6" y1="393.4" x2="417.6" y2="396.6" stroke="#242424" stroke-width="1" />
<text transform="translate(346,341.9) rotate(-90)" font-size="10.4" fill="#3c3c3c" text-anchor="middle" textLength="99.2" lengthAdjust="spacingAndGlyphs">% donor-derived DN3a cells</text>
<line x1="386.6" y1="330.5" x2="386.6" y2="338" stroke="#222" stroke-width="1" />
<line x1="381.0" y1="330.5" x2="392.2" y2="330.5" stroke="#222" stroke-width="1" />
<line x1="381.0" y1="338" x2="392.2" y2="338" stroke="#222" stroke-width="1" />
<line x1="417.6" y1="359.3" x2="417.6" y2="371.8" stroke="#222" stroke-width="1" />
<line x1="412.0" y1="359.3" x2="423.2" y2="359.3" stroke="#222" stroke-width="1" />
<line x1="412.0" y1="371.8" x2="423.2" y2="371.8" stroke="#222" stroke-width="1" />
<text x="412.61" y="358.58" font-size="6.4" fill="#6e1020" font-weight="bold" letter-spacing="1.26" stroke="#6e1020" stroke-width="0.3" stroke-linejoin="round">***</text>
<path d="M429.2,286.6 Q431.8,286.6 431.8,289.2 L431.8,324.1 Q431.8,326.7 434.4,326.7 Q431.8,326.7 431.8,329.3 L431.8,362.2 Q431.8,364.8 429.2,364.8" fill="none" stroke="#5a5a5a" stroke-width="1.35" stroke-linejoin="round"/>
<path d="M429.2,365.2 Q431.8,365.2 431.8,367.8 L431.8,376.8 Q431.8,379.4 434.4,379.4 Q431.8,379.4 431.8,382.0 L431.8,390.7 Q431.8,393.3 429.2,393.3" fill="none" stroke="#5a5a5a" stroke-width="1.35" stroke-linejoin="round"/>
<text x="437" y="324.2" font-size="8.8" fill="#2d2d2d" font-style="italic" textLength="64.2" lengthAdjust="spacingAndGlyphs" >CD2-rtTA-STAT5B</text>
<text x="501.8" y="321.5" font-size="6.4" fill="#2d2d2d" textLength="8.8" lengthAdjust="spacingAndGlyphs" >1*6</text>
<text x="511.2" y="324.2" font-size="8.8" fill="#2d2d2d" font-style="italic" textLength="2.2" lengthAdjust="spacingAndGlyphs" >;</text>
<text x="437" y="334.2" font-size="8.8" fill="#2d2d2d" font-style="italic" textLength="19.8" lengthAdjust="spacingAndGlyphs" >Lmo2</text>
<text x="457.4" y="331.5" font-size="6.4" fill="#2d2d2d" textLength="8" lengthAdjust="spacingAndGlyphs" >Tg</text>
<text x="437" y="382" font-size="8.8" fill="#2d2d2d" font-style="italic" textLength="38.2" lengthAdjust="spacingAndGlyphs" >YFP; Lmo2</text>
<text x="475.7" y="379.3" font-size="6.4" fill="#2d2d2d" textLength="7.2" lengthAdjust="spacingAndGlyphs" >Tg</text>
<text x="353.3" y="406.4" font-size="9" fill="#c41e3a" textLength="17.5" lengthAdjust="spacingAndGlyphs" >DOX</text>
<text x="386.4" y="406.7" font-size="8.4" fill="#3a3a3a" text-anchor="middle" font-weight="bold" >–</text>
<text x="417.6" y="407.0" font-size="8.4" fill="#c8304a" text-anchor="middle" >+</text>
<text x="49.2" y="434" font-size="11.2" fill="#0d0d0d" font-weight="bold" textLength="8.3" lengthAdjust="spacingAndGlyphs" stroke="#0d0d0d" stroke-width="0.3">H</text>
<g transform="translate(-1.8,404.7)">
<path d="M103.5,56.5 C106.5,56.8 109.6,58.5 110.3,62 C110.8,64.5 110.3,68.2 113.2,68.2 L118.6,68.3" fill="none" stroke="#14171c" stroke-width="1.4" stroke-linecap="round"/>
<circle cx="122.5" cy="46.8" r="4.5" fill="#3e4a5b" stroke="#14171c" stroke-width="1"/>
<circle cx="136.7" cy="44.6" r="4.5" fill="#3e4a5b" stroke="#14171c" stroke-width="1"/>
<circle cx="122.5" cy="46.8" r="2.8" fill="#4c586a"/><circle cx="136.7" cy="44.6" r="2.8" fill="#4c586a"/>
<path d="M118.4,68.3 L118.4,60.5 C118.4,55 122,52.6 126.5,52.6 C131.5,52.6 134.6,56 134.6,61 L134.6,68.3 Z" fill="#3e4a5b" stroke="#14171c" stroke-width="1" stroke-linejoin="round"/>
<ellipse cx="133.2" cy="53" rx="5.9" ry="6.4" fill="#3e4a5b" stroke="#14171c" stroke-width="1"/>
<ellipse cx="130.8" cy="50.1" rx="2.1" ry="1.7" fill="#fff"/>
<ellipse cx="135.3" cy="49.5" rx="2.1" ry="1.7" fill="#fff"/>
<circle cx="131.7" cy="50.7" r="0.75" fill="#14171c"/><circle cx="134.6" cy="50.3" r="0.75" fill="#14171c"/>
<path d="M128.6,48.4 Q130.8,47 133,48.6 Q135.3,46.8 137.6,48.2" fill="none" stroke="#14171c" stroke-width="0.8"/>
<ellipse cx="133.3" cy="51.4" rx="0.9" ry="0.6" fill="#14171c"/>
<path d="M136.6,59 L143.4,61 M137,60.2 L142.6,62.2 M131,60.4 L134.4,59.6" fill="none" stroke="#14171c" stroke-width="0.8"/>
<ellipse cx="142.4" cy="61" rx="1.7" ry="1" fill="#14171c" transform="rotate(18 142.4 61)"/>
</g>
<text x="64.1" y="486.6" font-size="8.8" fill="#2d2d2d" font-style="italic" textLength="64.2" lengthAdjust="spacingAndGlyphs" >CD2-rtTA-STAT5B</text>
<text x="128.9" y="483.9" font-size="6.4" fill="#2d2d2d" textLength="8.8" lengthAdjust="spacingAndGlyphs" >1*6</text>
<text x="138.3" y="486.6" font-size="8.8" fill="#2d2d2d" font-style="italic" textLength="2.2" lengthAdjust="spacingAndGlyphs" >;</text>
<text x="112.8" y="497" font-size="8.8" fill="#2d2d2d" font-style="italic" textLength="19.6" lengthAdjust="spacingAndGlyphs" >Lmo2</text>
<text x="132.9" y="494.3" font-size="6.4" fill="#2d2d2d" textLength="7.2" lengthAdjust="spacingAndGlyphs" >Tg</text>
<text x="161.9" y="447" font-size="8.6" fill="#2c4a80" textLength="14" lengthAdjust="spacingAndGlyphs" >VXL</text>
<path d="M177.7,460.7 L184.5,460.7 L181.1,472.0 Z" fill="#b3b9d0"/>
<path d="M177.7,449.7 L184.5,449.7 L181.1,461.0 Z" fill="#6b7b9c"/>
<path d="M177.7,438.8 L184.5,438.8 L181.1,450.1 Z" fill="#1a437a"/>
<defs><linearGradient id="gr" x1="0" x2="1" y1="0" y2="0"><stop offset="0" stop-color="#fbf0ee"/><stop offset="0.5" stop-color="#e08d8a"/><stop offset="1" stop-color="#c8102e"/></linearGradient></defs>
<rect x="152.5" y="473.6" width="34" height="14.2" fill="url(#gr)" />
<line x1="145.5" y1="473.3" x2="187.2" y2="473.3" stroke="#5a5a5a" stroke-width="1.3" />
<line x1="186.6" y1="473.3" x2="186.6" y2="500.7" stroke="#606060" stroke-width="1.35" />
<path d="M186.6,506.6 L183.5,499.2 L186.6,500.5 L189.7,499.2 Z" fill="#606060"/>
<line x1="171.2" y1="512.5" x2="171.2" y2="621.8" stroke="#242424" stroke-width="1.45" />
<line x1="170.4" y1="621.3" x2="241.8" y2="621.3" stroke="#242424" stroke-width="1.15" />
<line x1="168.0" y1="621.2" x2="171.3" y2="621.2" stroke="#242424" stroke-width="1" />
<text x="164.9" y="623.8" font-size="9.2" fill="#2a2a2a" text-anchor="end" textLength="4.3" lengthAdjust="spacingAndGlyphs" >0</text>
<line x1="168.0" y1="585.57" x2="171.3" y2="585.57" stroke="#242424" stroke-width="1" />
<text x="164.9" y="588.17" font-size="9.2" fill="#2a2a2a" text-anchor="end" textLength="8.4" lengthAdjust="spacingAndGlyphs" >20</text>
<line x1="168.0" y1="549.93" x2="171.3" y2="549.93" stroke="#242424" stroke-width="1" />
<text x="164.9" y="552.53" font-size="9.2" fill="#2a2a2a" text-anchor="end" textLength="8.4" lengthAdjust="spacingAndGlyphs" >40</text>
<line x1="168.0" y1="514.3" x2="171.3" y2="514.3" stroke="#242424" stroke-width="1" />
<text x="164.9" y="516.9" font-size="9.2" fill="#2a2a2a" text-anchor="end" textLength="8.4" lengthAdjust="spacingAndGlyphs" >60</text>
<line x1="188.8" y1="621.2" x2="188.8" y2="624.4" stroke="#242424" stroke-width="1" />
<line x1="224.5" y1="621.2" x2="224.5" y2="624.4" stroke="#242424" stroke-width="1" />
<text transform="translate(151,568.8) rotate(-90)" font-size="10.4" fill="#3c3c3c" text-anchor="middle" textLength="79" lengthAdjust="spacingAndGlyphs">DN3a cell survival (%)</text>
<rect x="186.1" y="601.65" width="5.3" height="5.3" fill="#1b4376" />
<rect x="186.1" y="610.35" width="5.3" height="5.3" fill="#1b4376" />
<rect x="196.1" y="610.35" width="5.3" height="5.3" fill="#1b4376" />
<rect x="176.65" y="617.65" width="5.3" height="5.3" fill="#1b4376" />
<rect x="186.1" y="615.95" width="5.3" height="5.3" fill="#1b4376" />
<rect x="196.1" y="616.65" width="5.3" height="5.3" fill="#1b4376" />
<line x1="177.5" y1="615" x2="201" y2="615" stroke="#222" stroke-width="0.9" />
<line x1="188.75" y1="612" x2="188.75" y2="617.6" stroke="#222" stroke-width="0.8" />
<line x1="182.75" y1="612" x2="194.75" y2="612" stroke="#222" stroke-width="0.8" />
<line x1="182.75" y1="617.6" x2="194.75" y2="617.6" stroke="#222" stroke-width="0.8" />
<rect x="221.85" y="520.35" width="5.3" height="5.3" fill="#b90f2b" />
<rect x="221.85" y="565.85" width="5.3" height="5.3" fill="#b90f2b" />
<rect x="221.85" y="588.35" width="5.3" height="5.3" fill="#b90f2b" />
<rect x="231.65" y="586.65" width="5.3" height="5.3" fill="#b90f2b" />
<rect x="221.85" y="598.35" width="5.3" height="5.3" fill="#b90f2b" />
<rect x="221.85" y="608.35" width="5.3" height="5.3" fill="#b90f2b" />
<line x1="213" y1="580.5" x2="236.8" y2="580.5" stroke="#222" stroke-width="0.9" />
<line x1="224.5" y1="567.5" x2="224.5" y2="593.5" stroke="#222" stroke-width="0.9" />
<line x1="218.6" y1="567.5" x2="230.4" y2="567.5" stroke="#222" stroke-width="0.9" />
<line x1="218.6" y1="593.5" x2="230.4" y2="593.5" stroke="#222" stroke-width="0.9" />
<text x="223.26" y="520.58" font-size="6.4" fill="#1c5a66" font-weight="bold" letter-spacing="1.26" stroke="#1c5a66" stroke-width="0.3" stroke-linejoin="round">*</text>
<text x="153.3" y="633.8" font-size="9" fill="#c41e3a" textLength="17.5" lengthAdjust="spacingAndGlyphs" >DOX</text>
<text x="188.75" y="634.1" font-size="8.4" fill="#3a3a3a" text-anchor="middle" font-weight="bold" >–</text>
<text x="224.5" y="634.4" font-size="8.4" fill="#c8304a" text-anchor="middle" >+</text>
<text x="258.3" y="434" font-size="11.2" fill="#0d0d0d" font-weight="bold" stroke="#0d0d0d" stroke-width="0.3">I</text>
<line x1="261.3" y1="465.8" x2="318.9" y2="465.8" stroke="#717171" stroke-width="1.35" />
<path d="M325,465.8 L317.4,462.5 L318.7,465.8 L317.4,469.1 Z" fill="#717171"/>
<text x="293.8" y="460.5" font-size="8.8" fill="#2d2d2d" text-anchor="middle" textLength="40.6" lengthAdjust="spacingAndGlyphs" >Donor cells</text>
<text x="293.8" y="475" font-size="8.8" fill="#2d2d2d" text-anchor="middle" textLength="25" lengthAdjust="spacingAndGlyphs" >from <tspan font-weight="bold" fill="#111">H</tspan></text>
<text x="293.8" y="485.2" font-size="8.8" fill="#2d2d2d" text-anchor="middle" textLength="34.6" lengthAdjust="spacingAndGlyphs" >(Cd45.2<tspan font-size="6.2" dy="-3.3">+</tspan><tspan dy="3.3">)</tspan></text>
<g transform="translate(112.3,404.9)">
<g stroke="#1a1a1a" fill="none" stroke-linecap="round">
<path d="M212.6,34.8 L216.8,32.8" stroke-width="1.6"/>
<path d="M214.7,33.8 L216.6,37.2" stroke-width="1.1"/>
<path d="M214.6,38.3 L218.8,36.2" stroke-width="1.1"/>
<path d="M216.7,37.2 L223.8,50" stroke-width="3.2" stroke-linecap="butt"/>
<path d="M217.3,38.3 L220.4,43.9" stroke="#e4e5ec" stroke-width="1.5" stroke-linecap="butt"/>
<path d="M220.4,43.9 L223.2,48.9" stroke="#6d7083" stroke-width="1.3" stroke-linecap="butt"/>
<path d="M223.6,49.6 L228.2,56.8" stroke-width="1"/>
<path d="M226,56 C229.5,56.6 231.6,57.6 231.6,60.4 L231.5,65.4 C231.5,67.9 232.6,68.4 235,68.4 L239.5,68.5" stroke-width="1.9" stroke="#3a3a3a"/>
<path d="M229.8,57.2 C231.4,58 231.6,58.6 231.6,60.4 L231.5,65.4 C231.5,67.9 232.6,68.4 235,68.4 L239,68.5" stroke-width="0.5" stroke="#d8d8d8"/>
</g>
<circle cx="243.2" cy="46.9" r="4.25" fill="#fff" stroke="#1a1a1a" stroke-width="0.9"/>
<circle cx="257.6" cy="44" r="4.25" fill="#fff" stroke="#1a1a1a" stroke-width="0.9"/>
<path d="M239.5,69.2 L239.5,61.4 C239.5,56 243,53.3 247.5,53.3 C252.5,53.3 255.9,57 255.9,62 L255.9,69.2 Z" fill="#fff" stroke="#1a1a1a" stroke-width="0.9" stroke-linejoin="round"/>
<path d="M253.6,46 C257.4,46 259.6,48.6 259.9,52.4 C260.1,56 258.4,59.6 253.8,59.6 C249.4,59.6 247.6,56.4 247.7,52.6 C247.8,48.8 249.8,46 253.6,46 Z" fill="#fff" stroke="#1a1a1a" stroke-width="0.9"/>
<ellipse cx="251.3" cy="50.1" rx="2.25" ry="1.95" fill="#fff" stroke="#1a1a1a" stroke-width="0.7"/>
<ellipse cx="256.1" cy="49.8" rx="2.25" ry="1.95" fill="#fff" stroke="#1a1a1a" stroke-width="0.7"/>
<circle cx="252.5" cy="50.8" r="0.65" fill="#1a1a1a"/><circle cx="255.3" cy="50.6" r="0.65" fill="#1a1a1a"/>
<ellipse cx="253.8" cy="52.3" rx="0.8" ry="0.55" fill="#1a1a1a"/>
<path d="M250.2,58.6 L255.6,60 L250.6,61.6 Z M264.6,58.5 L259,59.9 L264.2,61.3 Z" fill="#1a1a1a" stroke="#1a1a1a" stroke-width="0.4" stroke-linejoin="round"/>
<path d="M255.4,60 L259.2,59.9" stroke="#1a1a1a" stroke-width="0.9"/>
</g>
<text x="355.6" y="485" font-size="8.8" fill="#2d2d2d" text-anchor="middle" textLength="36.6" lengthAdjust="spacingAndGlyphs" >Recipients</text>
<text x="355.6" y="495.2" font-size="8.8" fill="#2d2d2d" text-anchor="middle" textLength="34" lengthAdjust="spacingAndGlyphs" >(Cd45.1<tspan font-size="6.2" dy="-3.3">+</tspan><tspan dy="3.3">)</tspan></text>
<text x="384.6" y="468" font-size="8.8" fill="#2d2d2d" textLength="29.3" lengthAdjust="spacingAndGlyphs" >6 weeks</text>
<line x1="382.5" y1="473" x2="416.8" y2="473" stroke="#6c6c6c" stroke-width="1.2" />
<line x1="416.2" y1="473" x2="416.2" y2="496.0" stroke="#6c6c6c" stroke-width="1.35" />
<path d="M416.2,501.9 L413.1,494.5 L416.2,495.8 L419.3,494.5 Z" fill="#6c6c6c"/>
<line x1="399.2" y1="512.5" x2="399.2" y2="621.8" stroke="#242424" stroke-width="1.45" />
<line x1="398.4" y1="621.3" x2="470.8" y2="621.3" stroke="#242424" stroke-width="1.15" />
<line x1="396.0" y1="621.2" x2="399.3" y2="621.2" stroke="#242424" stroke-width="1" />
<text x="392.9" y="623.8" font-size="9.2" fill="#2a2a2a" text-anchor="end" >1</text>
<line x1="396.0" y1="585.55" x2="399.3" y2="585.55" stroke="#242424" stroke-width="1" />
<text x="392.9" y="588.15" font-size="9.2" fill="#2a2a2a" text-anchor="end" textLength="8.4" lengthAdjust="spacingAndGlyphs" >10</text>
<line x1="396.0" y1="549.9" x2="399.3" y2="549.9" stroke="#242424" stroke-width="1" />
<text x="392.9" y="552.5" font-size="9.2" fill="#2a2a2a" text-anchor="end" textLength="12.5" lengthAdjust="spacingAndGlyphs" >100</text>
<line x1="396.0" y1="514.25" x2="399.3" y2="514.25" stroke="#242424" stroke-width="1" />
<text x="392.9" y="516.85" font-size="9.2" fill="#2a2a2a" text-anchor="end" textLength="17" lengthAdjust="spacingAndGlyphs" >1000</text>
<line x1="417.3" y1="621.2" x2="417.3" y2="624.4" stroke="#242424" stroke-width="1" />
<line x1="452.8" y1="621.2" x2="452.8" y2="624.4" stroke="#242424" stroke-width="1" />
<line x1="397.3" y1="610.47" x2="399.3" y2="610.47" stroke="#242424" stroke-width="0.6" />
<line x1="397.3" y1="604.19" x2="399.3" y2="604.19" stroke="#242424" stroke-width="0.6" />
<line x1="397.3" y1="599.74" x2="399.3" y2="599.74" stroke="#242424" stroke-width="0.6" />
<line x1="397.3" y1="596.28" x2="399.3" y2="596.28" stroke="#242424" stroke-width="0.6" />
<line x1="397.3" y1="593.46" x2="399.3" y2="593.46" stroke="#242424" stroke-width="0.6" />
<line x1="397.3" y1="591.07" x2="399.3" y2="591.07" stroke="#242424" stroke-width="0.6" />
<line x1="397.3" y1="589" x2="399.3" y2="589" stroke="#242424" stroke-width="0.6" />
<line x1="397.3" y1="587.18" x2="399.3" y2="587.18" stroke="#242424" stroke-width="0.6" />
<line x1="397.3" y1="574.82" x2="399.3" y2="574.82" stroke="#242424" stroke-width="0.6" />
<line x1="397.3" y1="568.54" x2="399.3" y2="568.54" stroke="#242424" stroke-width="0.6" />
<line x1="397.3" y1="564.09" x2="399.3" y2="564.09" stroke="#242424" stroke-width="0.6" />
<line x1="397.3" y1="560.63" x2="399.3" y2="560.63" stroke="#242424" stroke-width="0.6" />
<line x1="397.3" y1="557.81" x2="399.3" y2="557.81" stroke="#242424" stroke-width="0.6" />
<line x1="397.3" y1="555.42" x2="399.3" y2="555.42" stroke="#242424" stroke-width="0.6" />
<line x1="397.3" y1="553.35" x2="399.3" y2="553.35" stroke="#242424" stroke-width="0.6" />
<line x1="397.3" y1="551.53" x2="399.3" y2="551.53" stroke="#242424" stroke-width="0.6" />
<line x1="397.3" y1="539.17" x2="399.3" y2="539.17" stroke="#242424" stroke-width="0.6" />
<line x1="397.3" y1="532.89" x2="399.3" y2="532.89" stroke="#242424" stroke-width="0.6" />
<line x1="397.3" y1="528.44" x2="399.3" y2="528.44" stroke="#242424" stroke-width="0.6" />
<line x1="397.3" y1="524.98" x2="399.3" y2="524.98" stroke="#242424" stroke-width="0.6" />
<line x1="397.3" y1="522.16" x2="399.3" y2="522.16" stroke="#242424" stroke-width="0.6" />
<line x1="397.3" y1="519.77" x2="399.3" y2="519.77" stroke="#242424" stroke-width="0.6" />
<line x1="397.3" y1="517.7" x2="399.3" y2="517.7" stroke="#242424" stroke-width="0.6" />
<line x1="397.3" y1="515.88" x2="399.3" y2="515.88" stroke="#242424" stroke-width="0.6" />
<text transform="translate(369.6,565.9) rotate(-90)" font-size="10.4" fill="#3c3c3c" text-anchor="middle" textLength="70.8" lengthAdjust="spacingAndGlyphs">DN3a fold expansion</text>
<circle cx="417.25" cy="557.5" r="2.55" fill="#1b4376" />
<circle cx="407.5" cy="567" r="2.55" fill="#1b4376" />
<circle cx="417.25" cy="569.3" r="2.55" fill="#1b4376" />
<circle cx="426.75" cy="571.3" r="2.55" fill="#1b4376" />
<circle cx="417.25" cy="575" r="2.55" fill="#1b4376" />
<circle cx="417.25" cy="616" r="2.55" fill="#1b4376" />
<line x1="405.6" y1="569.2" x2="429" y2="569.2" stroke="#222" stroke-width="1" />
<line x1="417.25" y1="565.5" x2="417.25" y2="574.3" stroke="#222" stroke-width="0.9" />
<line x1="411.35" y1="565.5" x2="423.15" y2="565.5" stroke="#222" stroke-width="0.9" />
<line x1="411.35" y1="574.3" x2="423.15" y2="574.3" stroke="#222" stroke-width="0.9" />
<circle cx="443" cy="525" r="2.55" fill="#b90f2b" />
<circle cx="462.5" cy="526.3" r="2.55" fill="#b90f2b" />
<circle cx="452.75" cy="528.8" r="2.55" fill="#b90f2b" />
<circle cx="452.75" cy="536.8" r="2.55" fill="#b90f2b" />
<circle cx="452.75" cy="545.5" r="2.55" fill="#b90f2b" />
<circle cx="452.75" cy="553.8" r="2.55" fill="#b90f2b" />
<line x1="441.3" y1="532.5" x2="465" y2="532.5" stroke="#222" stroke-width="0.9" />
<line x1="452.75" y1="529.5" x2="452.75" y2="537" stroke="#222" stroke-width="0.9" />
<line x1="446.85" y1="529.5" x2="458.65" y2="529.5" stroke="#222" stroke-width="0.9" />
<line x1="446.85" y1="537" x2="458.65" y2="537" stroke="#222" stroke-width="0.9" />
<text x="451.51" y="522.38" font-size="6.4" fill="#444" font-weight="bold" letter-spacing="1.26" stroke="#444" stroke-width="0.3" stroke-linejoin="round">*</text>
<text x="382" y="633.8" font-size="9" fill="#c41e3a" textLength="17.5" lengthAdjust="spacingAndGlyphs" >DOX</text>
<text x="417.25" y="634.1" font-size="8.4" fill="#3a3a3a" text-anchor="middle" font-weight="bold" >–</text>
<text x="452.75" y="634.4" font-size="8.4" fill="#c8304a" text-anchor="middle" >+</text>
<g fill="#000" fill-opacity="0.56"><rect x="0" y="0" width="1" height="643"/><rect x="519" y="0" width="1" height="643"/><rect x="0" y="0" width="520" height="1"/><rect x="0" y="642" width="520" height="1"/></g>
</svg>
</div>
</body></html>
